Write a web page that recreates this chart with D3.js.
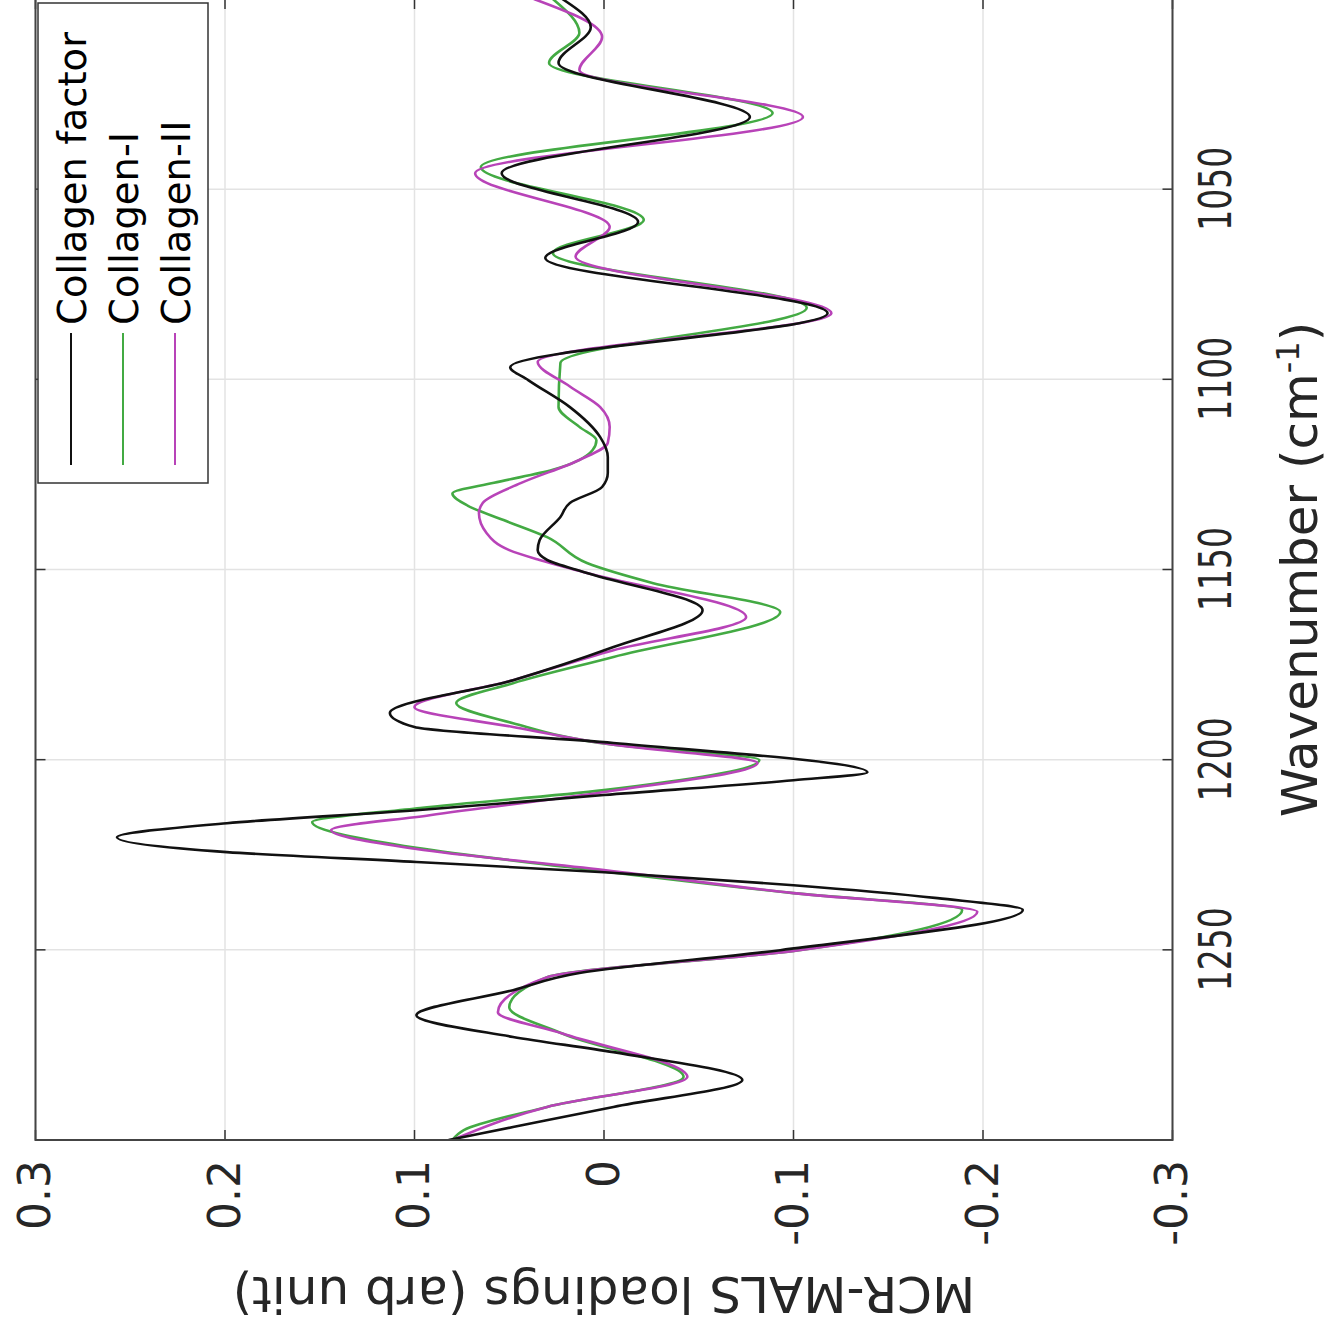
<!DOCTYPE html>
<html>
<head>
<meta charset="utf-8">
<script src="https://cdn.jsdelivr.net/npm/d3@7"></script>
<style>
  body { margin: 0; background: #ffffff; }
  svg { display: block; font-family: "DejaVu Sans", sans-serif; }
</style>
</head>
<body>
<div id="chart"></div>
<script>
// Collagen factor (black)
var factorWn = [1000, 1007.4, 1016.8, 1031.0, 1045.8, 1058.6, 1068.1, 1082.6, 1096.8, 1100.2, 1107.3, 1115.2,
  1120.4, 1124.6, 1128.3, 1132.5, 1136.2, 1142.3, 1144.9, 1147.5, 1150.9, 1160.7, 1170.4, 1179.1, 1187.7,
  1191.4, 1195.6, 1203.3, 1205.4, 1209.3, 1213.3, 1216.7, 1220.4, 1224.3, 1226.9, 1229.6, 1233.0, 1236.4,
  1239.5, 1250.1, 1256.1, 1260.6, 1267.2, 1272.9, 1276.9, 1284.2, 1291.3, 1296.6, 1300];
var factorVal = [0.022, 0.007, 0.024, -0.077, 0.054, -0.018, 0.031, -0.118, 0.0495, 0.040, 0.018, 0.002,
  -0.002, -0.002, 0.001, 0.018, 0.023, 0.034, 0.035, 0.030, 0.009, -0.052, -0.005, 0.048, 0.113,
  0.100, -0.005, -0.139, -0.100, 0.000, 0.099, 0.199, 0.257, 0.199, 0.099, 0.000, -0.100, -0.176,
  -0.221, -0.093, 0.013, 0.048, 0.099, 0.048, -0.005, -0.073, -0.005, 0.048, 0.082];

// Collagen-I (green)
var col1Wn = [1000, 1008.9, 1016.8, 1030.0, 1044.2, 1058.1, 1066.8, 1081.2, 1095.7, 1107.3, 1112.5, 1116.0,
  1118.6, 1123.8, 1127.2, 1130.0, 1133.2, 1137.0, 1141.5, 1148.3, 1153.6, 1161.2, 1173.0, 1179.9, 1185.1,
  1190.4, 1196.1, 1200.1, 1208.0, 1212.7, 1216.4, 1223.2, 1228.3, 1235.1, 1239.5, 1250.1, 1257.2, 1265.1,
  1272.0, 1283.4, 1291.3, 1297.4, 1300];
var col1Val = [0.027, 0.013, 0.029, -0.089, 0.065, -0.021, 0.027, -0.107, 0.023, 0.024, 0.013, 0.004,
  0.006, 0.027, 0.058, 0.080, 0.072, 0.053, 0.030, 0.009, -0.026, -0.093, -0.005, 0.048, 0.078,
  0.048, -0.005, -0.082, 0.000, 0.097, 0.154, 0.099, 0.018, -0.100, -0.189, -0.103, 0.030, 0.050,
  0.022, -0.042, 0.030, 0.074, 0.080];

// Collagen-II (magenta)
var col2Wn = [1000, 1010.0, 1018.7, 1031.0, 1045.8, 1059.9, 1067.8, 1082.6, 1095.4, 1101.9, 1107.3, 1112.5,
  1116.7, 1121.2, 1127.3, 1132.5, 1135.2, 1140.4, 1144.9, 1147.5, 1150.9, 1162.5, 1171.2, 1179.1, 1186.2,
  1191.4, 1196.1, 1200.9, 1208.5, 1214.6, 1218.5, 1223.5, 1229.0, 1235.1, 1240.0, 1250.1, 1257.2, 1266.4,
  1272.0, 1283.4, 1291.3, 1300];
var col2Val = [0.037, 0.001, 0.013, -0.105, 0.068, -0.003, 0.015, -0.120, 0.035, 0.018, 0.002, -0.003,
  -0.002, 0.013, 0.044, 0.064, 0.066, 0.062, 0.050, 0.034, 0.009, -0.075, -0.005, 0.048, 0.100,
  0.048, -0.005, -0.081, 0.000, 0.092, 0.144, 0.099, 0.000, -0.100, -0.197, -0.103, 0.030, 0.056,
  0.022, -0.044, 0.030, 0.080];

var xTickValues = [1050, 1100, 1150, 1200, 1250];
var yTickValues = [-0.3, -0.2, -0.1, 0, 0.1, 0.2, 0.3];
var legendLabels = ["Collagen factor", "Collagen-I", "Collagen-II"];
var seriesColors = ["#111111", "#43aa43", "#b843b8"];

var width = 1330, height = 1328;

var svg = d3.select("#chart")
  .append("svg")
  .attr("width", width)
  .attr("height", height);

// the whole figure is turned a quarter turn: draw it upright, then rotate the group
var g = svg.append("g")
  .attr("transform", "translate(0," + height + ") rotate(-90)");

// plot box in the upright frame ("top" is taken by window.top)
var pLeft = 188, pRight = 1329, pTop = 35.5, pBottom = 1172.5;

var xScale = d3.scaleLinear().domain([1300, 1000]).range([pLeft, pRight]);
var yScale = d3.scaleLinear().domain([-0.3, 0.3]).range([pBottom, pTop]);

// grid
g.selectAll(".gridx")
  .data(xTickValues)
  .enter()
  .append("line")
  .attr("x1", function (d) { return xScale(d); })
  .attr("x2", function (d) { return xScale(d); })
  .attr("y1", pTop)
  .attr("y2", pBottom)
  .style("stroke", "#e3e3e3")
  .style("stroke-width", 1.5);

g.selectAll(".gridy")
  .data(yTickValues)
  .enter()
  .append("line")
  .attr("x1", pLeft)
  .attr("x2", pRight)
  .attr("y1", function (d) { return yScale(d); })
  .attr("y2", function (d) { return yScale(d); })
  .style("stroke", "#e3e3e3")
  .style("stroke-width", 1.5);

// curves
g.append("clipPath").attr("id", "plotClip")
  .append("rect")
  .attr("x", pLeft).attr("y", pTop)
  .attr("width", pRight - pLeft).attr("height", pBottom - pTop);

var line = d3.line()
  .x(function (d) { return xScale(d[0]); })
  .y(function (d) { return yScale(d[1]); })
  .curve(d3.curveMonotoneX);

var series = [
  { data: d3.zip(col1Wn, col1Val), color: seriesColors[1] },
  { data: d3.zip(col2Wn, col2Val), color: seriesColors[2] },
  { data: d3.zip(factorWn, factorVal), color: seriesColors[0] }
];

g.append("g")
  .attr("clip-path", "url(#plotClip)")
  .selectAll("path")
  .data(series)
  .enter()
  .append("path")
  .attr("d", function (d) { return line(d.data); })
  .style("fill", "none")
  .style("stroke", function (d) { return d.color; })
  .style("stroke-width", 2.6)
  .style("stroke-linejoin", "round");

// inside ticks on all four sides
var tickLen = 10;
xTickValues.forEach(function (t) {
  g.append("line").attr("x1", xScale(t)).attr("x2", xScale(t)).attr("y1", pBottom).attr("y2", pBottom - tickLen)
    .style("stroke", "#333").style("stroke-width", 1.5);
  g.append("line").attr("x1", xScale(t)).attr("x2", xScale(t)).attr("y1", pTop).attr("y2", pTop + tickLen)
    .style("stroke", "#333").style("stroke-width", 1.5);
});
yTickValues.forEach(function (t) {
  g.append("line").attr("x1", pLeft).attr("x2", pLeft + tickLen).attr("y1", yScale(t)).attr("y2", yScale(t))
    .style("stroke", "#333").style("stroke-width", 1.5);
  g.append("line").attr("x1", pRight).attr("x2", pRight - tickLen).attr("y1", yScale(t)).attr("y2", yScale(t))
    .style("stroke", "#333").style("stroke-width", 1.5);
});

// box
g.append("rect")
  .attr("x", pLeft).attr("y", pTop)
  .attr("width", pRight - pLeft).attr("height", pBottom - pTop)
  .style("fill", "none")
  .style("stroke", "#444")
  .style("stroke-width", 2);

// tick labels
var xAxis = g.append("g")
  .attr("transform", "translate(0," + pBottom + ")")
  .call(d3.axisBottom(xScale).tickValues(xTickValues).tickSize(0).tickPadding(27.5).tickFormat(d3.format("d")));
xAxis.select(".domain").remove();
xAxis.selectAll("text")
  .style("font-family", "DejaVu Sans")
  .style("font-size", "44px")
  .style("fill", "#262626")
  .attr("textLength", 84)
  .attr("lengthAdjust", "spacingAndGlyphs");

var yAxis = g.append("g")
  .attr("transform", "translate(" + pLeft + ",0)")
  .call(d3.axisLeft(yScale).tickValues(yTickValues).tickSize(0).tickPadding(20)
    .tickFormat(function (d) { return d === 0 ? "0" : d.toFixed(1); }));
yAxis.select(".domain").remove();
yAxis.selectAll("text")
  .style("font-family", "DejaVu Sans")
  .style("font-size", "44px")
  .style("fill", "#262626");

// axis titles
var xTitle = g.append("text")
  .attr("x", (pLeft + pRight) / 2)
  .attr("y", 1317)
  .attr("text-anchor", "middle")
  .style("font-size", "50px")
  .style("fill", "#262626");
xTitle.append("tspan").text("Wavenumber (cm");
xTitle.append("tspan").attr("dy", -18).style("font-size", "32px").text("-1");
xTitle.append("tspan").attr("dy", 18).text(")");

g.append("text")
  .attr("transform", "translate(51," + (pTop + pBottom) / 2 + ") rotate(-90)")
  .attr("text-anchor", "middle")
  .style("font-size", "50px")
  .style("fill", "#262626")
  .text("MCR-MALS loadings (arb unit)");

// legend, top right of the upright plot
var legend = g.append("g");
legend.append("rect")
  .attr("x", 845).attr("y", 38)
  .attr("width", 480).attr("height", 170)
  .style("fill", "#ffffff")
  .style("stroke", "#333")
  .style("stroke-width", 1.5);

legend.selectAll("mylines")
  .data(legendLabels)
  .enter()
  .append("line")
  .attr("x1", 863).attr("x2", 995)
  .attr("y1", function (d, i) { return 71 + i * 52; })
  .attr("y2", function (d, i) { return 71 + i * 52; })
  .style("stroke", function (d, i) { return seriesColors[i]; })
  .style("stroke-width", 2);

legend.selectAll("mylabels")
  .data(legendLabels)
  .enter()
  .append("text")
  .attr("x", 1003)
  .attr("y", function (d, i) { return 86 + i * 52; })
  .text(function (d) { return d; })
  .style("font-size", "38.5px")
  .style("fill", "#000");
</script>
</body>
</html>
